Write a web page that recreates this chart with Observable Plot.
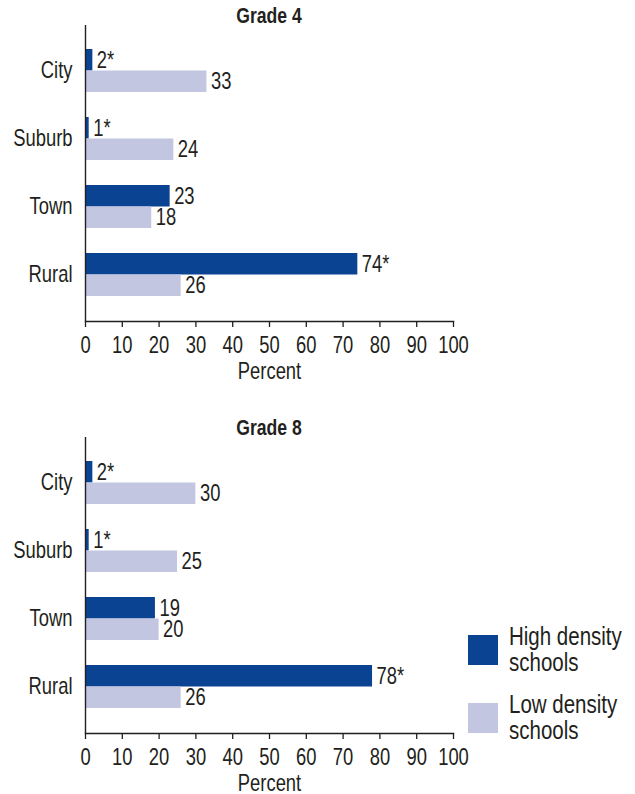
<!DOCTYPE html>
<html>
<head>
<meta charset="utf-8">
<script src="https://cdn.jsdelivr.net/npm/d3@7"></script>
<script src="https://cdn.jsdelivr.net/npm/@observablehq/plot@0.6"></script>
<style>
  body { margin: 0; background: #fff; }
  #wrap { position: relative; width: 635px; height: 794px; overflow: hidden;
    font-family: "Liberation Sans", Arial, sans-serif; color: #231f20; }
  .title { position: absolute; left: 85px; width: 368px; text-align: center; }
  .title span { display: inline-block; font-weight: bold; font-size: 22px; line-height: 24px; transform: scaleX(0.8); transform-origin: center; }
  .plot { position: absolute; left: 0; }
  .legend { position: absolute; left: 468px; }
  .legend .item { position: absolute; left: 0; width: 170px; }
  .legend .sw { position: absolute; left: 0; width: 30px; height: 30px; }
  .legend .lab { position: absolute; left: 41px; font-size: 25px; line-height: 26px; white-space: nowrap;
    transform: scaleX(0.82); transform-origin: left top; }
</style>
</head>
<body>
<div id="wrap"></div>
<script>
const categories = ["City", "Suburb", "Town", "Rural"];
const grade4High = [2, 1, 23, 74];
const grade4Low = [33, 24, 18, 26];
const grade4HighSig = [true, true, false, true];
const grade8High = [2, 1, 19, 78];
const grade8Low = [30, 25, 20, 26];
const grade8HighSig = [true, true, false, true];
const xTicks = [0, 10, 20, 30, 40, 50, 60, 70, 80, 90, 100];
const seriesNames = ["High density\nschools", "Low density\nschools"];
const titles = ["Grade 4", "Grade 8"];

const HIGH = "#0a4391";
const LOW = "#c3c6e1";
const INK = "#231f20";
const FONT = '"Liberation Sans", Arial, sans-serif';
const NARROW = 0.8; // horizontal squeeze to mimic a condensed face
const BW = 43;

function condense(svg) {
  svg.querySelectorAll("text").forEach(t => {
    const x = +(t.getAttribute("x") || 0);
    const tr = t.getAttribute("transform") || "";
    t.setAttribute("transform", `${tr} translate(${x},0) scale(${NARROW},1) translate(${-x},0)`);
  });
  return svg;
}

function chart(high, low, sig, marginTop, height) {
  const rows = categories.map((c, i) => ({
    category: c, high: high[i], low: low[i],
    highLabel: high[i] + (sig[i] ? "*" : ""), lowLabel: String(low[i])
  }));
  const frameH = 296;
  return condense(Plot.plot({
    width: 635, height,
    marginTop, marginBottom: height - marginTop - frameH,
    marginLeft: 85, marginRight: 182,
    style: { fontFamily: FONT, fontSize: "23px", color: INK, background: "transparent", overflow: "visible" },
    x: { domain: [0, 100] },
    y: { domain: categories, paddingInner: 1 - BW / 68.3, paddingOuter: 0.352, align: 0.48 },
    marks: [
      Plot.barX(rows, { y: "category", x: "high", fill: HIGH, insetBottom: BW / 2, insetTop: 0 }),
      Plot.barX(rows, { y: "category", x: "low", fill: LOW, insetTop: BW / 2, insetBottom: 0 }),
      Plot.text(rows, { y: "category", x: "high", text: "highLabel", dy: -BW / 4, dx: 4, textAnchor: "start", fontSize: 23, fill: INK }),
      Plot.text(rows, { y: "category", x: "low", text: "lowLabel", dy: BW / 4, dx: 4, textAnchor: "start", fontSize: 23, fill: INK }),
      Plot.axisX({ ticks: xTicks, tickSize: 6, tickPadding: 9, stroke: INK, strokeWidth: 1.3, fill: INK,
        label: "Percent", labelAnchor: "center", labelArrow: "none", labelOffset: 57 }),
      Plot.axisY({ tickSize: 0, tickPadding: 13, label: null, fill: INK }),
      Plot.frame({ anchor: "bottom", stroke: INK, strokeWidth: 1.4 }),
      Plot.ruleX([0], { stroke: INK, strokeWidth: 1.4 })
    ]
  }));
}

const wrap = document.getElementById("wrap");

function place(el, top) {
  el.classList.add("plot");
  el.style.top = top + "px";
  wrap.appendChild(el);
}

place(chart(grade4High, grade4Low, grade4HighSig, 25, 400), 0);
place(chart(grade8High, grade8Low, grade8HighSig, 37, 394), 400);

[[titles[0], 4], [titles[1], 416]].forEach(([t, y]) => {
  const d = document.createElement("div");
  d.className = "title";
  d.style.top = y + "px";
  const s = document.createElement("span");
  s.textContent = t;
  d.appendChild(s);
  wrap.appendChild(d);
});

const legend = document.createElement("div");
legend.className = "legend";
legend.style.top = "635px";
[[HIGH, 0], [LOW, 68]].forEach(([c, y], i) => {
  const item = document.createElement("div");
  item.className = "item";
  item.style.top = y + "px";
  const sw = document.createElement("div");
  sw.className = "sw";
  sw.style.background = c;
  const lab = document.createElement("div");
  lab.className = "lab";
  lab.style.top = "-12px";
  lab.innerHTML = seriesNames[i].split("\n").join("<br>");
  item.appendChild(sw);
  item.appendChild(lab);
  legend.appendChild(item);
});
wrap.appendChild(legend);
</script>
</body>
</html>
